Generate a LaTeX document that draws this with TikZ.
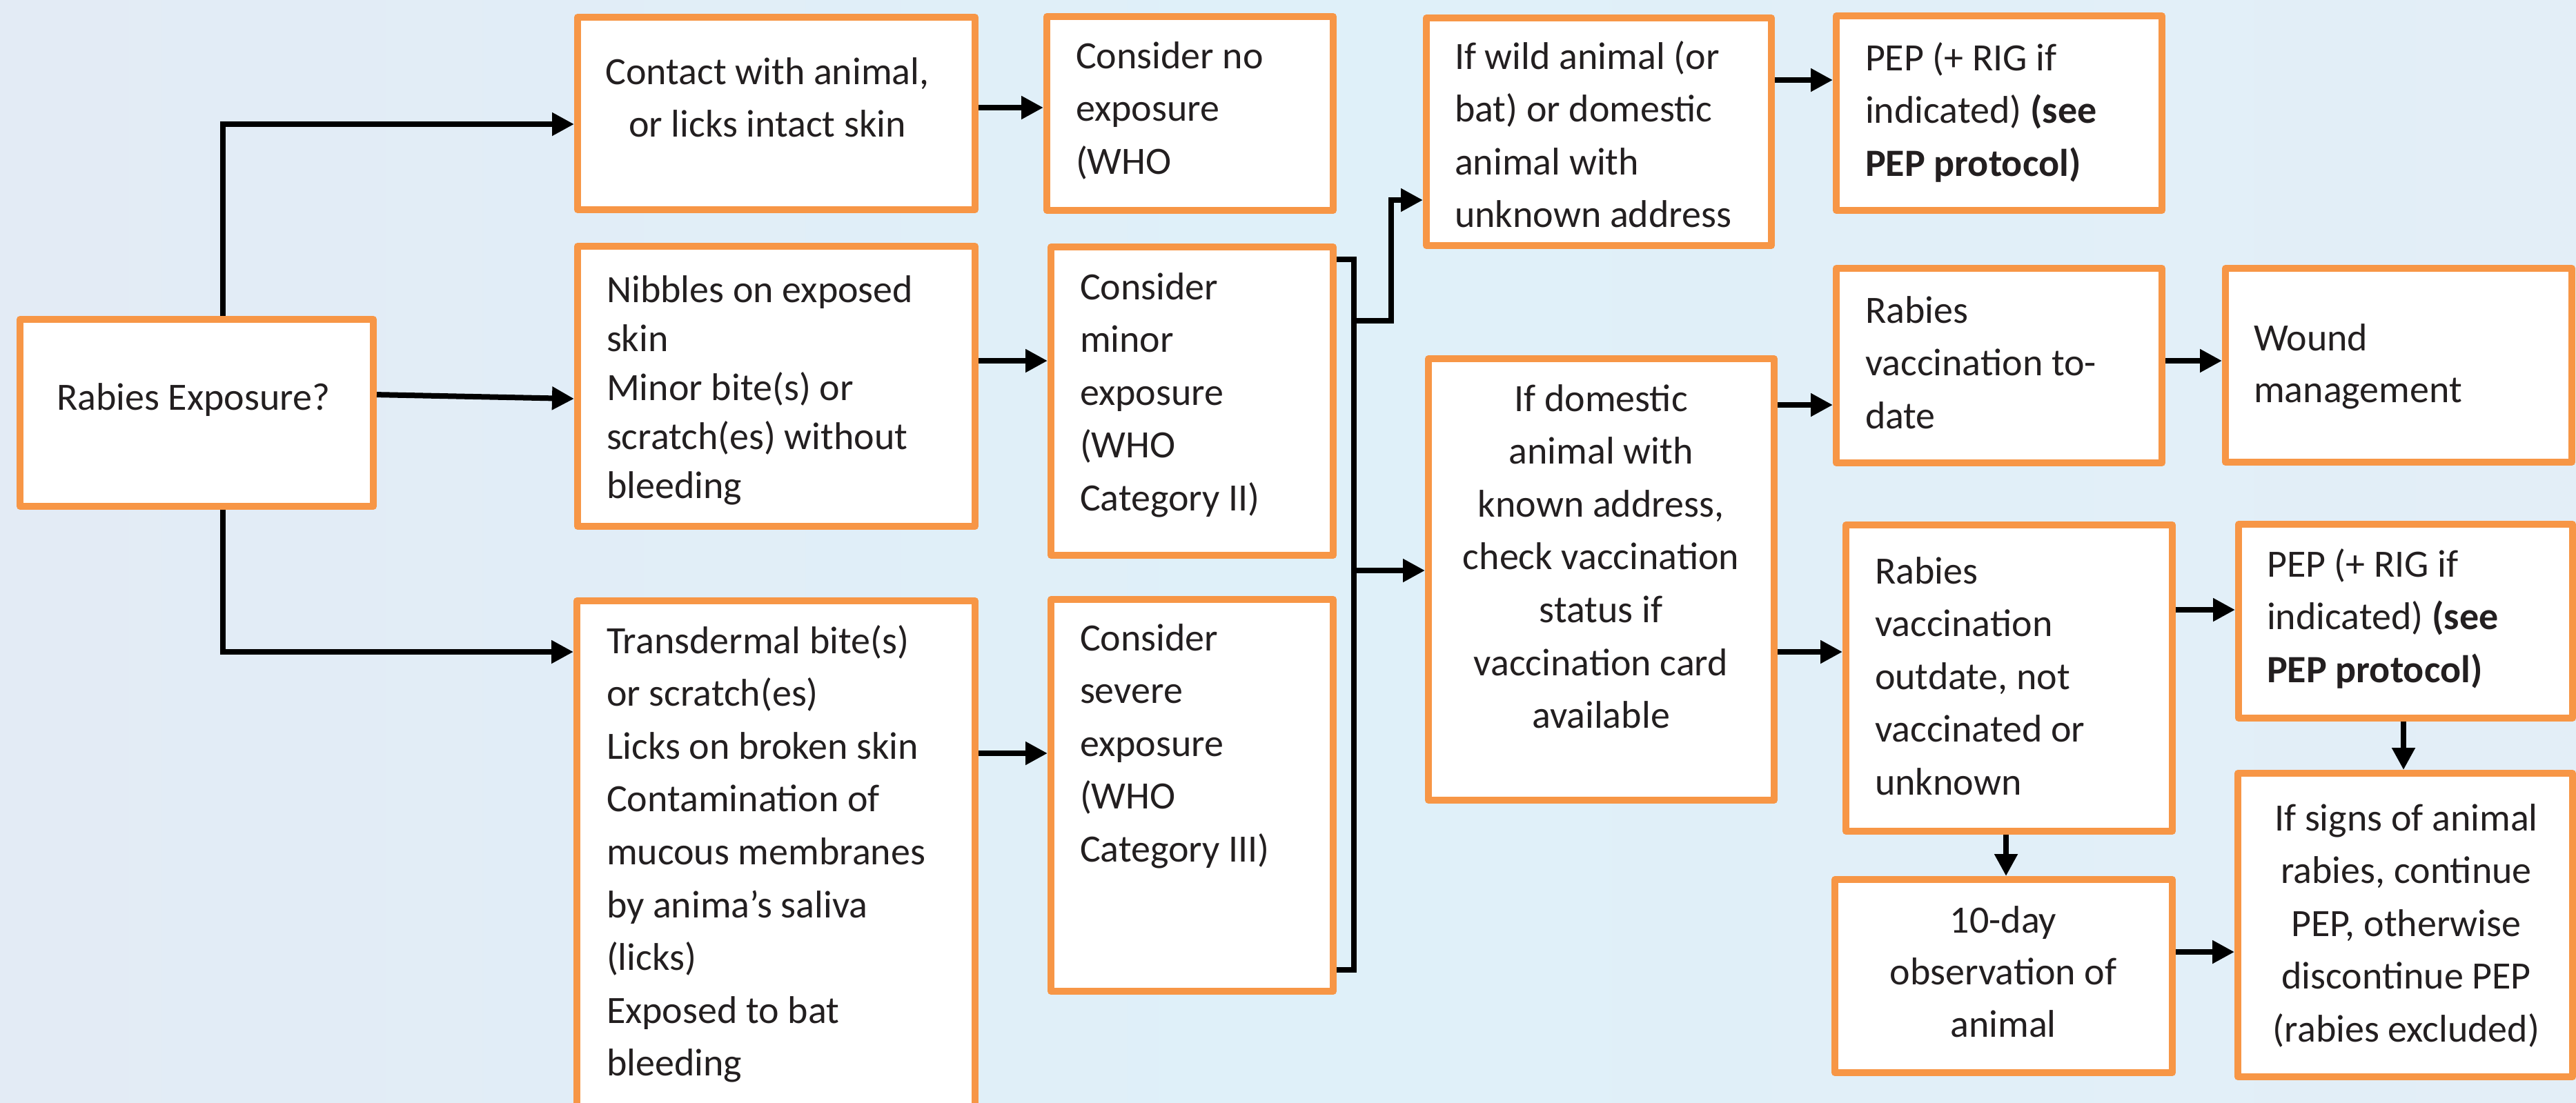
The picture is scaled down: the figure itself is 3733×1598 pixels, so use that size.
\documentclass[tikz,border=0pt]{standalone}
\usepackage{fontspec}
\setmainfont{Carlito}
\usetikzlibrary{arrows.meta,fit}
\definecolor{boxorange}{HTML}{F79646}
\definecolor{ink}{HTML}{231F20}
\definecolor{bgL}{HTML}{E3EBF5}
\definecolor{bgM}{HTML}{DFF0F9}
\definecolor{bgR}{HTML}{E3EEF7}
% invisible rule that fixes the height of a first line
\newcommand{\firstline}{\rule{0pt}{12pt}}

\begin{document}
\begin{tikzpicture}[x=0.25pt,y=-0.25pt,
  box/.style={draw=boxorange, line width=2.5pt, fill=white, inner sep=0pt, line join=round},
  txt/.style={inner sep=0pt, outer sep=0pt, text=ink, font=\fontsize{14}{19.15}\selectfont},
  lft/.style={txt, align=left, anchor=north west},
  ctr/.style={txt, align=center, anchor=north},
  link/.style={line width=2pt, draw=black},
  arr/.style={link, -{Triangle[length=8pt,width=8pt]}}]

% background
\shade[left color=bgL, right color=bgR, middle color=bgM] (0,0) rectangle (3733,1598);
\useasboundingbox (0,0) rectangle (3733,1598);

% boxes
\node[box, fit={(29,463) (541,734)}] (rab) {};
\node[box, fit={(837,25) (1413,304)}] (contact) {};
\node[box, fit={(837,357) (1413,763)}] (nibbles) {};
\node[box, fit={(836,871) (1413,1640)}] (trans) {};
\node[box, fit={(1517,24) (1932,305)}] (consNo) {};
\node[box, fit={(1523,358) (1932,805)}] (consMinor) {};
\node[box, fit={(1523,869) (1932,1437)}] (consSevere) {};
\node[box, fit={(2067,26) (2567,356)}] (wild) {};
\node[box, fit={(2070,520) (2571,1160)}] (domestic) {};
\node[box, fit={(2661,23) (3133,305)}] (pepA) {};
\node[box, fit={(2661,389) (3133,671)}] (todate) {};
\node[box, fit={(3225,389) (3727,670)}] (wound) {};
\node[box, fit={(2675,761) (3148,1205)}] (outdate) {};
\node[box, fit={(3244,760) (3728,1041)}] (pepB) {};
\node[box, fit={(3243,1121) (3728,1561)}] (signs) {};
\node[box, fit={(2659,1275) (3148,1555)}] (tenday) {};

% texts
\node[lft] (rabT) at (82,546) {\firstline Rabies Exposure?};
\node[ctr] (contactT) at (1112,74) {\firstline Contact with animal,\\or licks intact skin};
\node[lft, font=\fontsize{14}{17.75}\selectfont] (nibblesT) at (879,390)
  {\firstline Nibbles on exposed\\skin\\Minor bite(s) or\\scratch(es) without\\bleeding};
\node[lft] (transT) at (879,899)
  {\firstline Transdermal bite(s)\\or scratch(es)\\Licks on broken skin\\Contamination of\\mucous membranes\\by anima’s saliva\\(licks)\\Exposed to bat\\bleeding};
\node[lft] (consNoT) at (1559,51) {\firstline Consider no\\exposure\\(WHO};
\node[lft] (consMinorT) at (1565,386) {\firstline Consider\\minor\\exposure\\(WHO\\Category II)};
\node[lft] (consSevereT) at (1565,895) {\firstline Consider\\severe\\exposure\\(WHO\\Category III)};
\node[lft] (wildT) at (2108,52) {\firstline If wild animal (or\\bat) or domestic\\animal with\\unknown address};
\node[ctr] (domesticT) at (2320,548)
  {\firstline If domestic\\animal with\\known address,\\check vaccination\\status if\\vaccination card\\available};
\node[lft] (pepAT) at (2703,54) {\firstline PEP (+ RIG if\\indicated) \textbf{(see}\\\textbf{PEP protocol)}};
\node[lft] (todateT) at (2703,420) {\firstline Rabies\\vaccination to-\\date};
\node[lft, font=\fontsize{14}{18.75}\selectfont] (woundT) at (3266,460) {\firstline Wound\\management};
\node[lft] (outdateT) at (2717,798) {\firstline Rabies\\vaccination\\outdate, not\\vaccinated or\\unknown};
\node[lft] (pepBT) at (3285,788) {\firstline PEP (+ RIG if\\indicated) \textbf{(see}\\\textbf{PEP protocol)}};
\node[ctr] (signsT) at (3487,1156)
  {\firstline If signs of animal\\rabies, continue\\PEP, otherwise\\discontinue PEP\\(rabies excluded)};
\node[ctr, font=\fontsize{14}{18.9}\selectfont] (tendayT) at (2903,1304) {\firstline 10-day\\observation of\\animal};

% routing points
\coordinate (j1) at (323,180);
\coordinate (j2) at (323,945);
\coordinate (yNo) at (0,156);
\coordinate (yMinor) at (0,523);
\coordinate (ySevere) at (0,1092);
\coordinate (b1) at (1962,376);
\coordinate (b2) at (1962,1406);
\coordinate (w1) at (2016,465);
\coordinate (w2) at (2016,290);
\coordinate (yDom) at (0,827);
\coordinate (yPepA) at (0,116);
\coordinate (yToDate) at (0,587);
\coordinate (yOut) at (0,945);
\coordinate (yWound) at (0,523);
\coordinate (yPepB) at (0,884);
\coordinate (ySigns) at (0,1380);
\coordinate (xTen) at (2907,0);
\coordinate (xSigns) at (3483,0);

% connectors
\draw[arr] (rab.north -| j1) -- (j1) -- (contact.west |- j1);
\draw[arr] ([yshift=6.6pt]rab.east) -- ([yshift=-4.5pt]nibbles.west);
\draw[arr] (rab.south -| j2) -- (j2) -- (trans.west |- j2);
\draw[arr] (contact.east |- yNo) -- (consNo.west |- yNo);
\draw[arr] (nibbles.east |- yMinor) -- (consMinor.west |- yMinor);
\draw[arr] (trans.east |- ySevere) -- (consSevere.west |- ySevere);
\draw[link] (consMinor.east |- b1) -- (b1) -- (b2) -- (consSevere.east |- b2);
\draw[arr] (b1 |- w1) -- (w1) -- (w2) -- (wild.west |- w2);
\draw[arr] (b1 |- yDom) -- (domestic.west |- yDom);
\draw[arr] (wild.east |- yPepA) -- (pepA.west |- yPepA);
\draw[arr] (domestic.east |- yToDate) -- (todate.west |- yToDate);
\draw[arr] (domestic.east |- yOut) -- (outdate.west |- yOut);
\draw[arr] (todate.east |- yWound) -- (wound.west |- yWound);
\draw[arr] (outdate.east |- yPepB) -- (pepB.west |- yPepB);
\draw[arr] (outdate.south -| xTen) -- (tenday.north -| xTen);
\draw[arr] (pepB.south -| xSigns) -- (signs.north -| xSigns);
\draw[arr] (tenday.east |- ySigns) -- (signs.west |- ySigns);
\end{tikzpicture}
\end{document}
